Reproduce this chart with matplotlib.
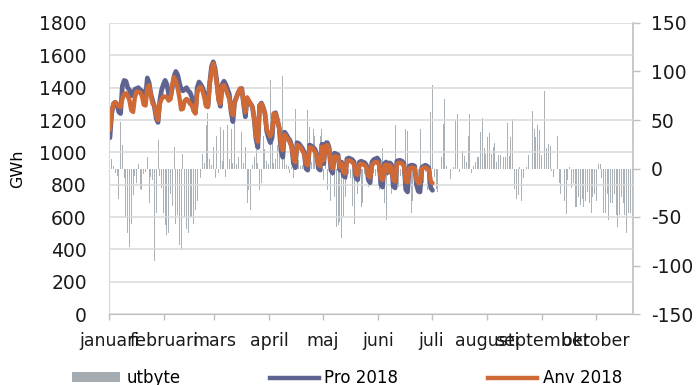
import matplotlib
matplotlib.use("Agg")
import matplotlib.pyplot as plt
from matplotlib.patches import Patch
from matplotlib.lines import Line2D

plt.rcParams["axes.unicode_minus"] = False

# month start days (day 0 = 1 jan) and labels
month_start = [0, 31, 59, 90, 120, 151, 181, 212, 243, 273]
month_names = ["januari", "februari", "mars", "april", "maj", "juni",
               "juli", "augusti", "september", "oktober"]

# daily production (GWh), 1 jan - 1 jul
pro_2018 = [
    1090, 1240, 1300, 1310, 1295, 1250, 1240,
    1410, 1445, 1440, 1400, 1385, 1350, 1360,
    1390, 1395, 1400, 1385, 1380, 1330, 1340,
    1460, 1430, 1360, 1320, 1280, 1210, 1185,
    1320, 1385, 1420, 1445, 1420, 1360, 1340,
    1400, 1470, 1500, 1480, 1430, 1390, 1380,
    1390, 1400, 1380, 1370, 1340, 1280, 1245,
    1400, 1435, 1420, 1400, 1370, 1290, 1285,
    1430, 1530, 1560, 1520, 1440, 1330, 1285,
    1420, 1440, 1420, 1390, 1360, 1250, 1190,
    1310, 1340, 1370, 1385, 1395, 1300, 1220,
    1330, 1310, 1300, 1280, 1200, 1080, 1030,
    1290, 1305, 1280, 1240, 1130, 1090, 1060,
    1090, 1240, 1245, 1200, 1150, 1010, 970,
    1125, 1110, 1090, 1075, 1040, 930, 905,
    1060, 1055, 1040, 1025, 1000, 900, 890,
    1045, 1040, 1030, 1020, 990, 900, 890,
    1050, 930, 1055, 1060, 1030, 890, 872,
    995, 990, 985, 890, 940, 855, 847,
    960, 965, 960, 955, 940, 845, 830,
    940, 945, 940, 935, 920, 830, 812,
    940, 955, 960, 965, 950, 800, 785,
    930, 940, 875, 935, 925, 790, 780,
    945, 950, 950, 945, 930, 770, 755,
    915, 920, 920, 915, 800, 760, 755,
    905, 915, 920, 915, 900, 780, 765,
]

# daily consumption (GWh), 1 jan - 1 jul
anv_2018 = [
    1140, 1250, 1300, 1310, 1300, 1285, 1280,
    1330, 1360, 1365, 1350, 1320, 1260, 1250,
    1340, 1375, 1375, 1370, 1350, 1295, 1290,
    1400, 1415, 1350, 1300, 1290, 1230, 1200,
    1300, 1330, 1345, 1345, 1340, 1320, 1330,
    1420, 1465, 1440, 1400, 1340, 1265, 1270,
    1320, 1330, 1320, 1300, 1290, 1255, 1240,
    1370, 1395, 1405, 1380, 1340, 1285, 1280,
    1420, 1510, 1550, 1500, 1420, 1320, 1300,
    1410, 1415, 1390, 1360, 1330, 1260, 1230,
    1310, 1340, 1370, 1395, 1390, 1310, 1250,
    1340, 1320, 1300, 1280, 1210, 1100, 1066,
    1290, 1300, 1275, 1240, 1140, 1120, 1100,
    1128, 1240, 1240, 1200, 1150, 1040, 1014,
    1110, 1095, 1080, 1060, 1030, 960, 940,
    1045, 1040, 1030, 1010, 990, 930, 920,
    1030, 1030, 1020, 1005, 980, 925, 915,
    1035, 950, 1040, 1045, 1020, 920, 900,
    975, 975, 970, 910, 930, 880, 870,
    945, 950, 945, 940, 925, 870, 860,
    925, 930, 925, 920, 905, 855, 845,
    915, 935, 940, 940, 925, 840, 830,
    915, 925, 880, 920, 905, 830, 820,
    925, 935, 935, 930, 915, 820, 815,
    900, 905, 905, 900, 830, 810, 810,
    895, 905, 905, 900, 890, 820, 810,
]

# daily net exchange (GWh), 1 jan - 21 okt, right axis
utbyte = [
    # jan
    45, 10, 3, -5, -8, -31, 48, 24, -10, -50, -67, -81, -57, -27, -8, -15,
    5, -21, -22, -6, -4, 12, -36, -9, -12, -95, -46, 29, -8, -20, -46,
    # feb
    -58, -69, -67, -26, -39, 22, -57, -48, -79, -84, 15, -50, -62, -67,
    -50, -50, -57, -43, -33, -8, -10, 15, 6, 45, 57, 10, 4, 22,
    # mar
    -10, 33, -5, 43, 8, 40, -9, 45, 10, 41, 6, 64, 5, 12, 8, 38,
    6, 22, -36, -22, -43, 4, 12, 19, 6, -22, -15, 33, 20, 8, 5,
    # apr
    91, 33, 6, 10, 24, 20, 7, 95, 15, 4, 3, -5, 2, -10, 61,
    5, 9, 3, 4, 6, 8, 60, 43, 7, 41, 33, 10, 6, 34, 41,
    # maj
    -12, 29, -22, 17, -33, -8, -29, -60, -58, -55, -72, -50, -29, -12, -6, -10,
    -39, -57, -8, -26, -5, -40, -36, -6, -4, -19, -3, -15, -5, -8, -4,
    # jun
    -22, -6, 21, -36, -53, -8, -5, -26, -6, 45, -4, -19, -8, -5, -3,
    41, 39, -6, -46, -33, -8, -4, -26, 41, -5, -15, -4, -22, -6, 58,
    # jul
    86, -9, -21, -24, 0, 12, 46, 72, 3, 0, -11, 0, 2, 50, 56, -4,
    24, 18, 13, 7, 34, 56, -5, 3, 7, 12, 12, 38, 52, 21, 15,
    # aug
    32, 37, 15, 22, 26, 7, 14, 14, 24, 12, 12, 47, 13, 32, 51, -21,
    -31, -27, 2, -34, -10, 0, 2, 14, 0, 59, 41, 32, 45, 40, 14,
    # sep
    29, 80, 21, 25, 23, -3, -9, 0, 33, -15, -26, 0, -33, -47, -12,
    2, -20, -15, -40, -40, -29, -38, -31, -40, -34, -24, -36, -46, -29, -26,
    # okt
    -33, 5, 5, -10, -46, -46, -26, -53, -36, -36, -26, -48, -60, -48, -29,
    -36, -48, -67, -46, -46, -50,
]

c_pro = "#5f6390"
c_anv = "#cf6a37"
c_bar = "#aab2b8"
c_axis = "#bfbfbf"
c_grid = "#d9d9d9"

fig = plt.figure(figsize=(6.96, 3.85), dpi=100)
ax = fig.add_axes([109 / 696, 1 - 314 / 385, 524 / 696, 291 / 385])
ax2 = ax.twinx()

n_days = len(utbyte)
ax2.bar([d + 0.5 for d in range(n_days)], utbyte, width=0.55, color=c_bar, linewidth=0)
ax2.set_ylim(-150, 150)
ax2.set_yticks(range(-150, 151, 50))

ax.plot([d + 0.5 for d in range(len(pro_2018))], pro_2018, color=c_pro, lw=3.4,
        solid_capstyle="round", solid_joinstyle="round")
ax.plot([d + 0.5 for d in range(len(anv_2018))], anv_2018, color=c_anv, lw=3.2,
        solid_capstyle="round", solid_joinstyle="round")

# lines on top of the bars
ax.set_zorder(ax2.get_zorder() + 1)
ax.patch.set_visible(False)

ax.set_xlim(0, n_days)
ax.set_ylim(0, 1800)
ax.set_yticks(range(0, 1801, 200))
ax.grid(axis="y", color=c_grid, lw=1.1)
ax.set_axisbelow(True)
ax.set_xticks(month_start)
ax.set_xticklabels(month_names)
ax.set_ylabel("GWh", fontsize=11.5, labelpad=10)

for a in (ax, ax2):
    for s in a.spines.values():
        s.set_visible(False)
ax.spines["left"].set_visible(True)
ax.spines["left"].set_color(c_grid)
ax.spines["bottom"].set_visible(True)
ax.spines["bottom"].set_color(c_axis)
ax2.spines["right"].set_visible(True)
ax2.spines["right"].set_color(c_axis)
ax2.spines["right"].set_linewidth(1.2)

ax.tick_params(axis="y", length=0, pad=16, labelsize=13.5, labelcolor="#1a1a1a")
ax.tick_params(axis="x", length=4, width=1, color=c_axis, pad=9, labelsize=12.5,
               labelcolor="#1a1a1a")
ax2.tick_params(axis="y", length=5, width=1, color=c_axis, pad=8, labelsize=13.5,
                labelcolor="#1a1a1a")

handles = [
    Patch(facecolor="#a4abb1", edgecolor="none"),
    Line2D([], [], color=c_pro, lw=3.2),
    Line2D([], [], color=c_anv, lw=3.2),
]
fig.legend(handles, ["utbyte", "Pro 2018", "Anv 2018"], ncol=3, frameon=False,
           loc="center left", bbox_to_anchor=(72 / 696, 1 - 378 / 385),
           fontsize=12, handlelength=2.9, handleheight=0.55, handletextpad=0.35,
           columnspacing=5.4, borderpad=0, borderaxespad=0)

fig.savefig("out.png", dpi=100)
